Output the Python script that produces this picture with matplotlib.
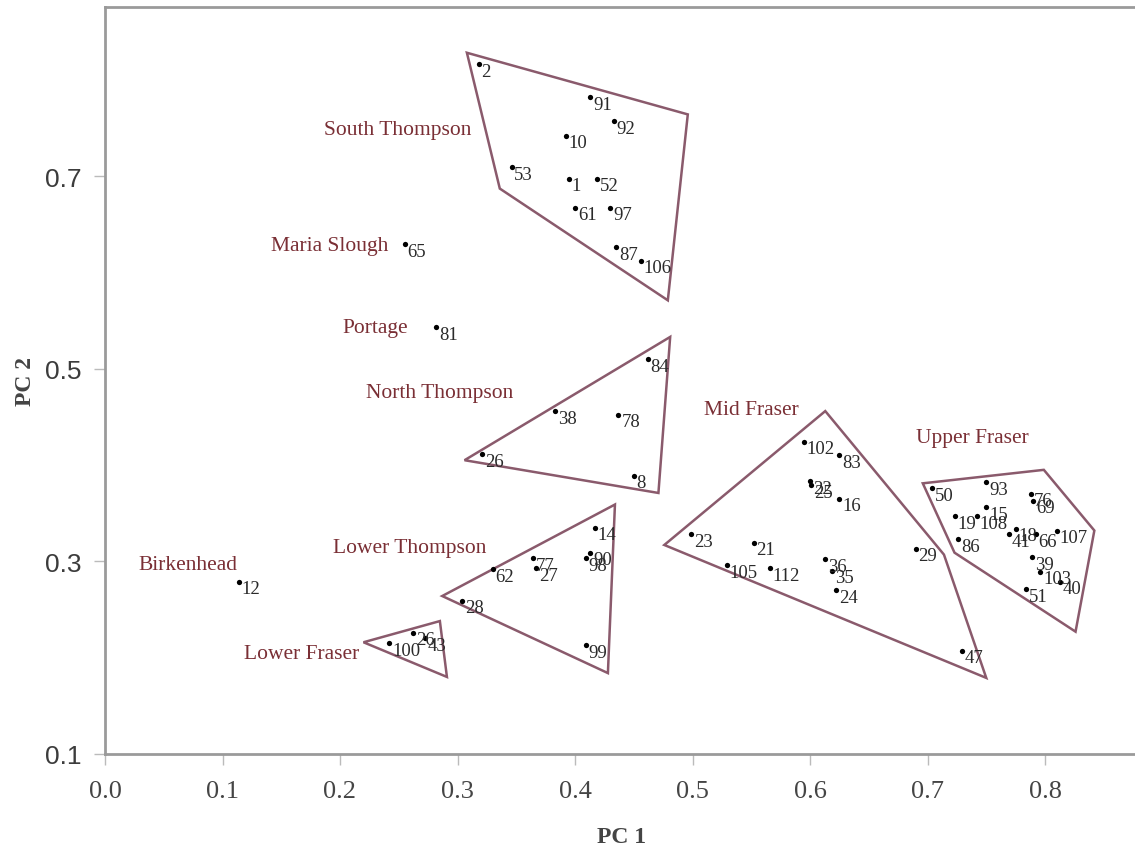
import matplotlib
matplotlib.use("Agg")
import matplotlib.pyplot as plt
from matplotlib.patches import Polygon

# ---------------- data ----------------
st_ids = ["2", "91", "92", "10", "53", "1", "52", "61", "97", "87", "106"]
st_x = [0.318, 0.413, 0.433, 0.392, 0.346, 0.395, 0.419, 0.400, 0.430, 0.435, 0.456]
st_y = [0.816, 0.782, 0.757, 0.742, 0.709, 0.697, 0.697, 0.667, 0.667, 0.626, 0.612]
st_poly = [(0.308, 0.828), (0.496, 0.764), (0.479, 0.571), (0.336, 0.687)]

nt_ids = ["84", "38", "78", "26", "8"]
nt_x = [0.462, 0.383, 0.437, 0.321, 0.450]
nt_y = [0.510, 0.456, 0.452, 0.411, 0.389]
nt_poly = [(0.481, 0.533), (0.471, 0.371), (0.306, 0.405)]

lt_ids = ["14", "90", "98", "77", "27", "62", "28", "99"]
lt_x = [0.417, 0.413, 0.409, 0.364, 0.367, 0.330, 0.304, 0.409]
lt_y = [0.335, 0.309, 0.303, 0.303, 0.293, 0.292, 0.259, 0.213]
lt_poly = [(0.434, 0.359), (0.428, 0.184), (0.287, 0.264)]

lf_ids = ["100", "26", "43"]
lf_x = [0.242, 0.262, 0.272]
lf_y = [0.215, 0.226, 0.220]
lf_poly = [(0.220, 0.216), (0.285, 0.238), (0.291, 0.180)]

mf_ids = ["102", "83", "22", "25", "16", "23", "21", "105", "112", "36", "35", "24", "29", "47"]
mf_x = [0.595, 0.625, 0.600, 0.601, 0.625, 0.499, 0.552, 0.529, 0.566, 0.613, 0.619, 0.622, 0.690, 0.729]
mf_y = [0.424, 0.410, 0.383, 0.379, 0.365, 0.328, 0.319, 0.296, 0.293, 0.302, 0.290, 0.270, 0.313, 0.207]
mf_poly = [(0.613, 0.456), (0.714, 0.307), (0.750, 0.179), (0.476, 0.317)]

uf_ids = ["50", "93", "76", "69", "19", "108", "15", "86", "18", "41", "66", "107", "39", "103", "40", "51"]
uf_x = [0.704, 0.750, 0.788, 0.790, 0.723, 0.742, 0.750, 0.726, 0.775, 0.769, 0.792, 0.810, 0.789, 0.796, 0.813, 0.784]
uf_y = [0.376, 0.382, 0.370, 0.363, 0.347, 0.347, 0.356, 0.323, 0.334, 0.328, 0.328, 0.332, 0.304, 0.289, 0.279, 0.271]
uf_poly = [(0.696, 0.381), (0.799, 0.395), (0.842, 0.332), (0.826, 0.227), (0.723, 0.309)]

single_ids = ["65", "81", "12"]
single_x = [0.255, 0.282, 0.114]
single_y = [0.629, 0.543, 0.279]

group_names = ["South Thompson", "Maria Slough", "Portage", "North Thompson", "Mid Fraser",
               "Upper Fraser", "Lower Thompson", "Birkenhead", "Lower Fraser"]
group_lx = [0.249, 0.1915, 0.230, 0.285, 0.550, 0.738, 0.259, 0.071, 0.1677]
group_ly = [0.748, 0.628, 0.543, 0.475, 0.458, 0.429, 0.314, 0.297, 0.204]

x_ticks = [0.0, 0.1, 0.2, 0.3, 0.4, 0.5, 0.6, 0.7, 0.8]
y_ticks = [0.1, 0.3, 0.5, 0.7]

# ---------------- figure ----------------
W, H = 1135, 854
fig = plt.figure(figsize=(W / 100, H / 100), dpi=100)
ax = fig.add_axes([105 / W, (H - 755) / H, (1139 - 105) / W, (755 - 8) / H])
ax.set_xlim(0, 0.88)
ax.set_ylim(0.1, 0.8755)

line_col = "#8a5a6c"
text_col = "#7a2f35"
serif = ["Liberation Serif", "DejaVu Serif"]

groups = [
    (st_ids, st_x, st_y, st_poly),
    (nt_ids, nt_x, nt_y, nt_poly),
    (lt_ids, lt_x, lt_y, lt_poly),
    (lf_ids, lf_x, lf_y, lf_poly),
    (mf_ids, mf_x, mf_y, mf_poly),
    (uf_ids, uf_x, uf_y, uf_poly),
    (single_ids, single_x, single_y, None),
]

for ids, xs, ys, poly in groups:
    if poly is not None:
        ax.add_patch(Polygon(poly, closed=True, fill=False, edgecolor=line_col, lw=1.8))
    ax.plot(xs, ys, "o", color="black", ms=3.8, mew=0, zorder=3)
    for i, xv, yv in zip(ids, xs, ys):
        ax.annotate(i, (xv, yv), xytext=(2.0, -5), textcoords="offset points",
                    ha="left", va="center", fontsize=13.5, family=serif, color="#2a2a2a",
                    zorder=4)

for name, lx, ly in zip(group_names, group_lx, group_ly):
    ax.text(lx, ly, name, ha="center", va="center", fontsize=15.5, family=serif, color=text_col)

# axes styling
for s in ["left", "bottom", "top"]:
    ax.spines[s].set_color("#9a9a9a")
    ax.spines[s].set_linewidth(2)
ax.spines["right"].set_visible(False)

ax.set_xticks(x_ticks)
ax.set_xticklabels([f"{v:.1f}" for v in x_ticks], family=serif, fontsize=19, color="#454545")
ax.set_yticks(y_ticks)
ax.set_yticklabels([f"{v:.1f}" for v in y_ticks], family=["Liberation Sans", "DejaVu Sans"],
                   fontsize=19, color="#3c3c3c")
ax.tick_params(axis="x", length=8, width=1, color="#bbbbbb", pad=11)
ax.tick_params(axis="y", length=8, width=1, color="#bbbbbb", pad=9)

ax.set_xlabel("PC 1", family=serif, fontsize=17, fontweight="bold", color="#444444", labelpad=17)
ax.set_ylabel("PC 2", family=serif, fontsize=17, fontweight="bold", color="#444444", labelpad=6)

fig.savefig("out.png", dpi=100)
